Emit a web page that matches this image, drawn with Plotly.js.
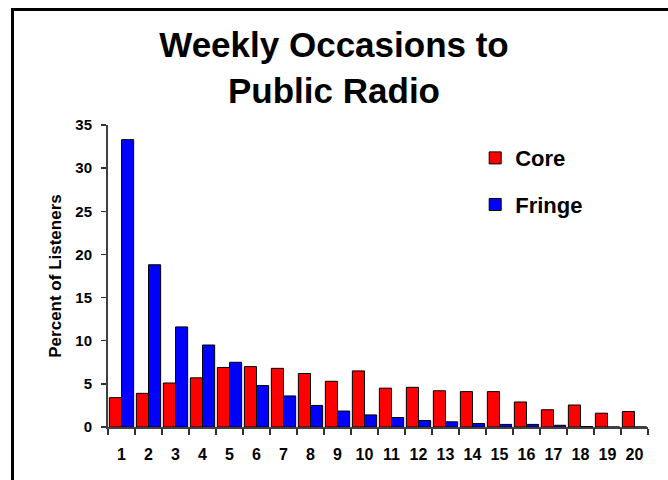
<!DOCTYPE html>
<html>
<head>
<meta charset="utf-8">
<script src="https://cdn.plot.ly/plotly-3.0.1.min.js"></script>
<style>
body { margin: 0; padding: 0; background: #fff; }
#graph { position: absolute; left: 0; top: 0; width: 668px; height: 480px; }
#frame { position: absolute; left: 11px; top: 8px; width: 700px; height: 500px;
         border-left: 3px solid #000; border-top: 3px solid #000; pointer-events: none; }
</style>
</head>
<body>
<div id="graph"></div>
<div id="frame"></div>
<script>
// weekly occasions to public radio, core vs fringe listeners
var occasions = ['1','2','3','4','5','6','7','8','9','10','11','12','13','14','15','16','17','18','19','20'];
var core   = [3.4, 3.9, 5.1, 5.7, 6.9, 7.0, 6.8, 6.2, 5.3, 6.5, 4.5, 4.6, 4.2, 4.1, 4.1, 2.9, 2.0, 2.55, 1.6, 1.8];
var fringe = [33.3, 18.8, 11.6, 9.5, 7.5, 4.8, 3.6, 2.5, 1.85, 1.4, 1.1, 0.75, 0.6, 0.4, 0.3, 0.3, 0.2, 0.05, 0, 0];

var FONT = 'Arial, Liberation Sans, sans-serif';

var trace1 = {
    x: occasions,
    y: core,
    type: 'bar',
    name: 'Core',
    legendgroup: 'a',
    marker: { color: '#FF0000', line: { color: '#000', width: 1 } }
};

var trace2 = {
    x: occasions,
    y: fringe,
    type: 'bar',
    name: 'Fringe',
    legendgroup: 'b',
    marker: { color: '#0000FF', line: { color: '#000', width: 1 } }
};

var data = [ trace1, trace2 ];

var layout = {
    width: 668,
    height: 480,
    margin: { l: 108, r: 20, t: 125, b: 53 },
    paper_bgcolor: '#fff',
    plot_bgcolor: '#fff',
    font: { family: FONT, color: '#000' },
    barmode: 'group',
    bargap: 0.1,
    bargroupgap: 0,
    title: {
        text: '<b>Weekly Occasions to<br>Public Radio</b>',
        font: { size: 35, family: FONT, color: '#000' },
        x: 0.5, xref: 'container', xanchor: 'center',
        y: 1 - 57/480, yref: 'container', yanchor: 'middle'
    },
    xaxis: {
        type: 'category',
        tickson: 'boundaries',
        tickangle: 0,
        ticks: 'outside',
        ticklen: 6,
        tickwidth: 1.5,
        tickcolor: '#333',
        ticklabelstandoff: 12,
        showline: true,
        linecolor: '#404040',
        linewidth: 2,
        showgrid: false,
        tickfont: { size: 16, family: FONT, weight: 'bold' }
    },
    yaxis: {
        range: [0, 35],
        dtick: 5,
        ticks: 'outside',
        ticklen: 5,
        tickwidth: 1.5,
        tickcolor: '#333',
        ticklabelstandoff: 6,
        showline: true,
        linecolor: '#404040',
        linewidth: 2,
        showgrid: false,
        zeroline: false,
        tickfont: { size: 15, family: FONT, weight: 'bold' },
        title: {
            text: '<b>Percent of Listeners</b>',
            font: { size: 17, family: FONT },
            standoff: 9
        }
    },
    showlegend: true,
    legend: {
        x: 0.68, y: 0.96, xanchor: 'left', yanchor: 'top',
        font: { size: 22, family: FONT, weight: 'bold' },
        tracegroupgap: 15,
        bgcolor: 'rgba(0,0,0,0)'
    }
};

Plotly.newPlot('graph', data, layout, { staticPlot: true });
</script>
</body>
</html>
